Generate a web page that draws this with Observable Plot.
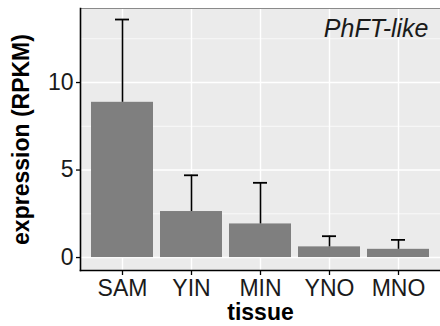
<!DOCTYPE html>
<html>
<head>
<meta charset="utf-8">
<script src="https://cdn.jsdelivr.net/npm/d3@7"></script>
<script src="https://cdn.jsdelivr.net/npm/@observablehq/plot@0.6"></script>
<style>
  html, body { margin: 0; padding: 0; background: white; }
</style>
</head>
<body>
<div id="chart"></div>
<script>
// Data
const tissues = ["SAM", "YIN", "MIN", "YNO", "MNO"];
const means   = [8.87, 2.63, 1.92, 0.61, 0.47];
const uppers  = [13.6, 4.70, 4.27, 1.22, 1.01];
const yTicks  = [0, 5, 10];
const yMinor  = [2.5, 7.5, 12.5];
const yDomain = [-0.74, 14.23];
const title   = "PhFT-like";
const xLabel  = "tissue";
const yLabel  = "expression (RPKM)";

const data = tissues.map((t, i) => ({tissue: t, mean: means[i], upper: uppers[i]}));
const font = "'Liberation Sans', Arial, Helvetica, sans-serif";
const ink = "#1a1a1a";

const chart = Plot.plot({
  width: 440,
  height: 326,
  marginLeft: 80,
  marginRight: 0,
  marginTop: 8,
  marginBottom: 56,
  style: {fontFamily: font, fontSize: "23px", color: ink, background: "white", overflow: "visible"},
  x: {domain: tissues, paddingInner: 0.1, paddingOuter: 0.15, axis: null},
  y: {domain: yDomain, axis: null},
  marks: [
    Plot.frame({fill: "#EBEBEB", stroke: null}),
    Plot.gridY(yMinor, {stroke: "white", strokeOpacity: 1, strokeWidth: 0.7}),
    Plot.gridY(yTicks, {stroke: "white", strokeOpacity: 1, strokeWidth: 1.4}),
    Plot.gridX(tissues, {stroke: "white", strokeOpacity: 1, strokeWidth: 1.4}),
    Plot.barY(data, {x: "tissue", y: "mean", fill: "#7F7F7F"}),
    Plot.ruleX(data, {x: "tissue", y1: "mean", y2: "upper", stroke: "black", strokeWidth: 1.6}),
    Plot.tickY(data, {x: "tissue", y: "upper", insetLeft: 24, insetRight: 24, stroke: "black", strokeWidth: 1.8}),
    Plot.frame({anchor: "top", stroke: "#8a8a8a", strokeWidth: 1}),
    Plot.frame({anchor: "left", stroke: "black", strokeWidth: 1.6}),
    Plot.frame({anchor: "bottom", stroke: "black", strokeWidth: 1.6}),
    Plot.axisX(tissues, {tickSize: 5, tickPadding: 4, label: null, fill: ink, fontSize: 23, stroke: "black", strokeWidth: 1.3}),
    Plot.axisY(yTicks, {tickSize: 4, tickPadding: 3, label: null, fill: ink, fontSize: 23, stroke: "black", strokeWidth: 1.3}),
    Plot.text([title], {frameAnchor: "top-right", text: d => d, textAnchor: "end", lineAnchor: "top", dx: -12, dy: 11, fontSize: 25, fontStyle: "italic", fill: ink}),
    Plot.text([xLabel], {frameAnchor: "bottom", text: d => d, textAnchor: "middle", lineAnchor: "top", dy: 33, fontSize: 23, fontWeight: "bold", fill: "black"}),
    Plot.text([yLabel], {frameAnchor: "left", text: d => d, rotate: -90, textAnchor: "middle", lineAnchor: "middle", dx: -59, fontSize: 23, fontWeight: "bold", fill: "black"})
  ]
});
document.getElementById("chart").appendChild(chart);
</script>
</body>
</html>
